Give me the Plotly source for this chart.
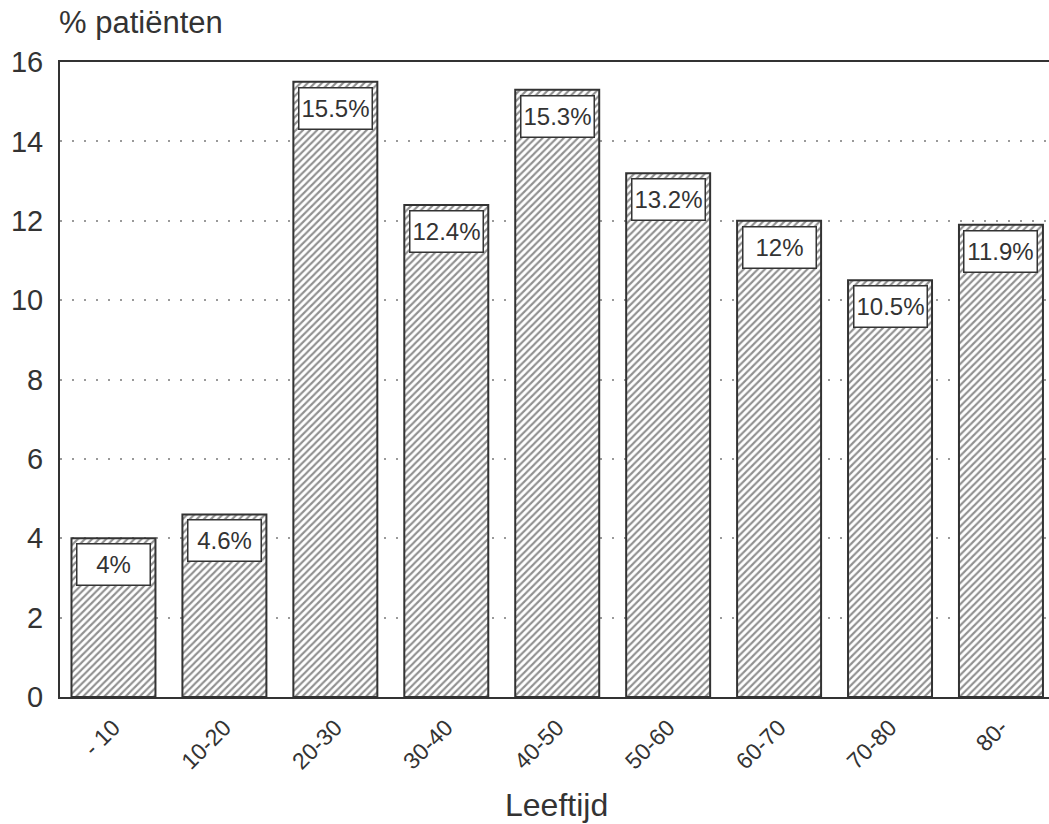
import plotly.graph_objects as go

# Age groups and share of patients (%)
leeftijd = ["- 10", "10-20", "20-30", "30-40", "40-50", "50-60", "60-70", "70-80", "80-"]
percentages = [4.0, 4.6, 15.5, 12.4, 15.3, 13.2, 12.0, 10.5, 11.9]
labels = ["4%", "4.6%", "15.5%", "12.4%", "15.3%", "13.2%", "12%", "10.5%", "11.9%"]
y_ticks = [0, 2, 4, 6, 8, 10, 12, 14, 16]

ink = "#333333"
font_family = "Liberation Sans, Arial, Helvetica, sans-serif"

fig = go.Figure(
    go.Bar(
        x=leeftijd,
        y=percentages,
        marker=dict(
            color="white",
            line=dict(color=ink, width=2),
            pattern=dict(shape="/", fgcolor="#222222", bgcolor="white", size=5, solidity=0.42),
        ),
        hoverinfo="skip",
    )
)

# Boxed value labels just inside the top of each bar
for cat, val, lab in zip(leeftijd, percentages, labels):
    fig.add_annotation(
        x=cat, y=val, xref="x", yref="y",
        text=lab, showarrow=False,
        xanchor="center", yanchor="top", yshift=-5,
        width=70, height=38, align="center", valign="middle",
        bgcolor="white", bordercolor=ink, borderwidth=1.5, borderpad=1,
        font=dict(family=font_family, size=24, color=ink),
    )

# Axis captions
fig.add_annotation(
    x=-0.003, y=1.062, xref="paper", yref="paper",
    text="% patiënten", showarrow=False, xanchor="left", yanchor="middle",
    font=dict(family=font_family, size=31, color=ink),
)
fig.add_annotation(
    x=0.5025, y=-0.170, xref="paper", yref="paper",
    text="Leeftijd", showarrow=False, xanchor="center", yanchor="middle",
    font=dict(family=font_family, size=32, color=ink),
)

fig.update_layout(
    width=1049, height=824,
    margin=dict(l=60, r=0, t=62, b=127),
    paper_bgcolor="white", plot_bgcolor="white",
    bargap=0.243, showlegend=False,
    font=dict(family=font_family, color=ink),
)
fig.update_xaxes(
    type="category", range=[-0.482, 8.433],
    showline=True, linecolor=ink, linewidth=2, mirror=True,
    showgrid=False, ticks="", tickangle=-45, ticklabelstandoff=6,
    tickfont=dict(family=font_family, size=23, color=ink),
)
fig.update_yaxes(
    range=[0, 16], tickvals=y_ticks,
    showline=True, linecolor=ink, linewidth=2,
    showgrid=True, gridcolor="#9a9a9a", gridwidth=1.5, griddash="2px,10px",
    zeroline=False, ticks="", ticklabelstandoff=9,
    tickfont=dict(family=font_family, size=29, color=ink),
)

fig.write_html("out.html")
